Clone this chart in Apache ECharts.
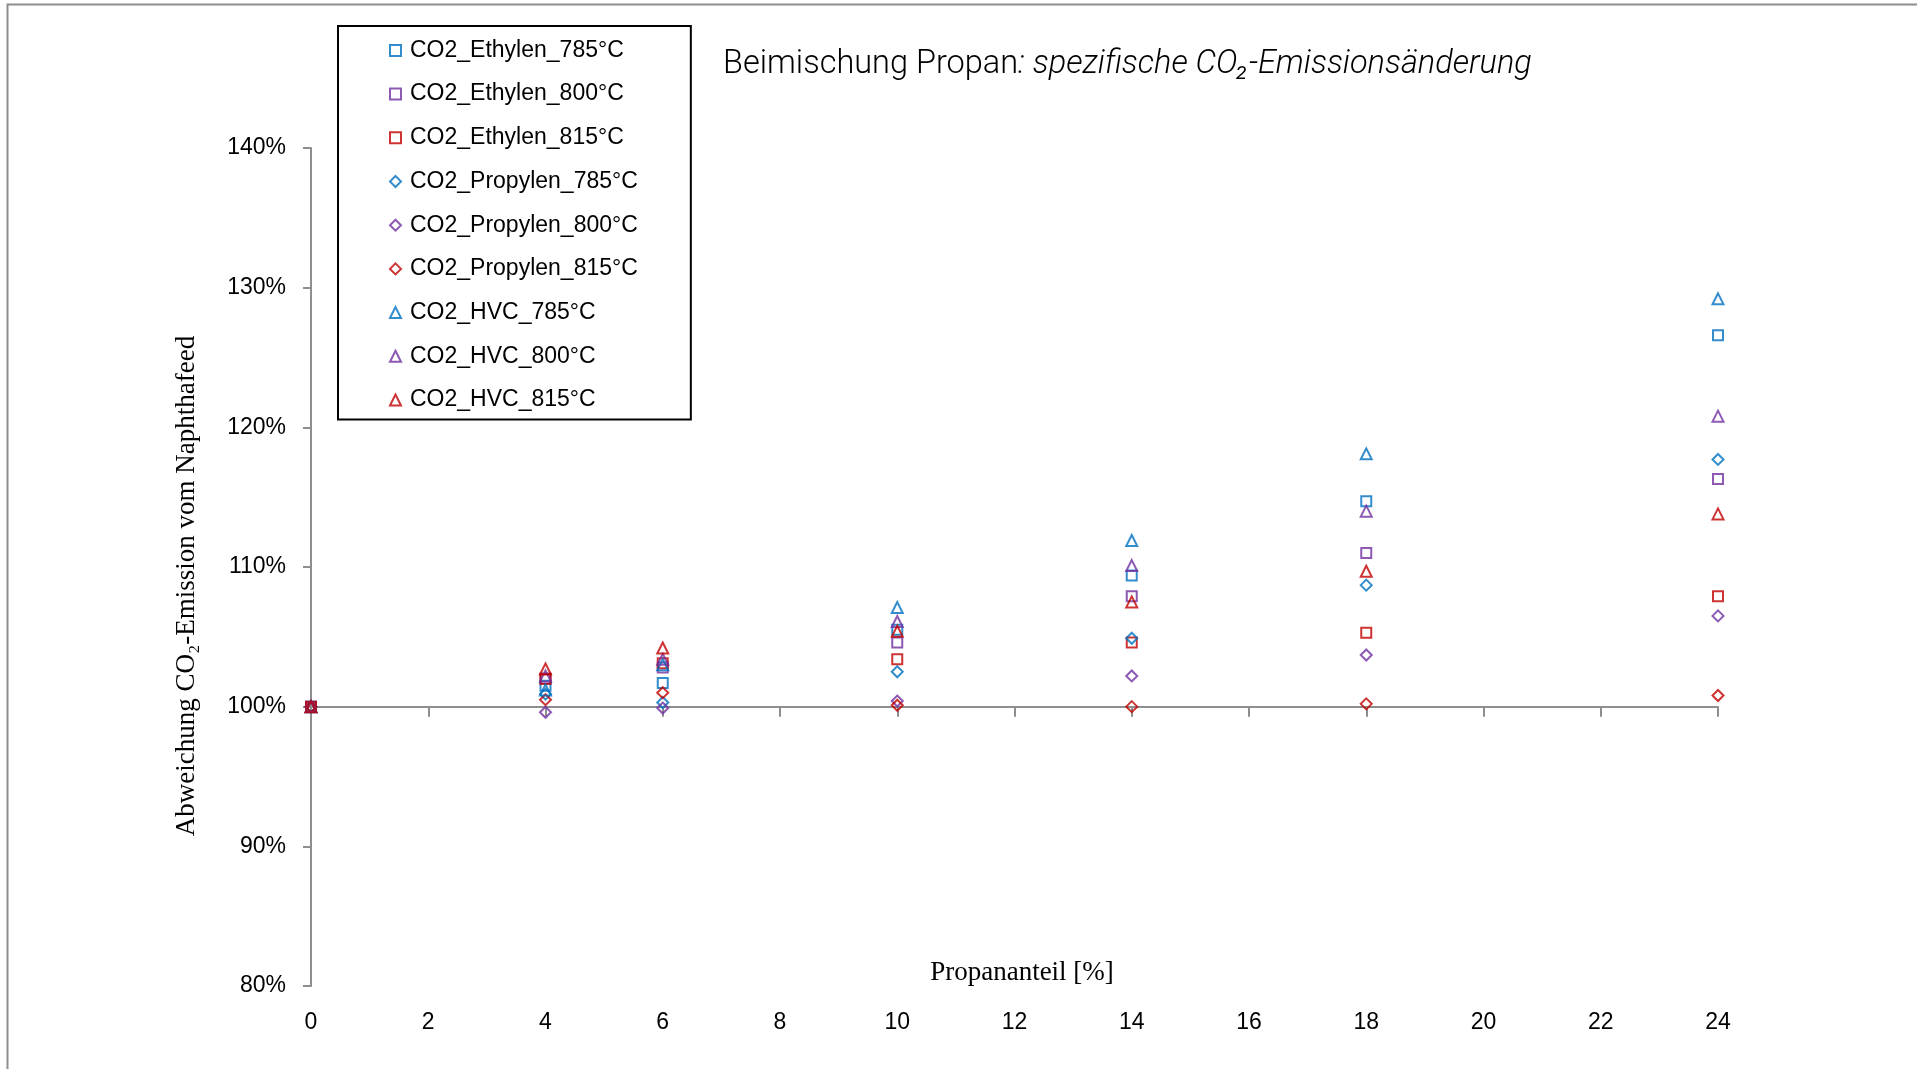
<!DOCTYPE html>
<html>
<head>
<meta charset="utf-8">
<title>Beimischung Propan</title>
<script src="https://cdn.jsdelivr.net/npm/echarts@6/dist/echarts.min.js"></script>
<style>
  html, body { margin: 0; padding: 0; background: #fff; }
  #chart { width: 1917px; height: 1069px; }
</style>
</head>
<body>
<div id="chart"></div>
<script>
// Propane share in the feed [%]
const propanAnteil = [0, 4, 6, 10, 14, 18, 24];

// Specific CO2 emission relative to pure naphtha feed [%]
const co2Ethylen785  = [100, 101.5, 101.7, 105.5, 109.4, 114.7, 126.6];
const co2Ethylen800  = [100, 102.0, 102.8, 104.6, 107.9, 111.0, 116.3];
const co2Ethylen815  = [100, 102.0, 103.1, 103.4, 104.6, 105.3, 107.9];
const co2Propylen785 = [100, 100.9, 100.3, 102.5, 104.9, 108.7, 117.7];
const co2Propylen800 = [100,  99.6,  99.9, 100.4, 102.2, 103.7, 106.5];
const co2Propylen815 = [100, 100.5, 101.0, 100.1, 100.0, 100.2, 100.8];
const co2Hvc785      = [100, 101.2, 103.0, 107.1, 111.9, 118.1, 129.2];
const co2Hvc800      = [100, 102.2, 103.4, 106.1, 110.1, 114.0, 120.8];
const co2Hvc815      = [100, 102.7, 104.2, 105.4, 107.5, 109.7, 113.8];

const seriesNames = [
  'CO2_Ethylen_785°C', 'CO2_Ethylen_800°C', 'CO2_Ethylen_815°C',
  'CO2_Propylen_785°C', 'CO2_Propylen_800°C', 'CO2_Propylen_815°C',
  'CO2_HVC_785°C', 'CO2_HVC_800°C', 'CO2_HVC_815°C'
];
const seriesValues = [
  co2Ethylen785, co2Ethylen800, co2Ethylen815,
  co2Propylen785, co2Propylen800, co2Propylen815,
  co2Hvc785, co2Hvc800, co2Hvc815
];

// Axis ranges
const xMin = 0, xMax = 24, xStep = 2;
const yMin = 80, yMax = 140, yStep = 10;
const yBaseline = 100;

// Styling
const BLUE = '#0070C0', PURPLE = '#7030A0', RED = '#C00000';
const seriesColors = [BLUE, PURPLE, RED, BLUE, PURPLE, RED, BLUE, PURPLE, RED];
const seriesSymbols = ['rect', 'rect', 'rect', 'diamond', 'diamond', 'diamond', 'triangle', 'triangle', 'triangle'];
const symbolSizes = { rect: 10, diamond: 11, triangle: 11 };
const AXIS_GREY = '#8e8e8e';
const SANS = "'Liberation Sans', Arial, sans-serif";
const SERIF = "'Liberation Serif', 'Times New Roman', serif";
const TITLE_FONT = "Roboto, 'Liberation Sans', sans-serif";

const grid = { left: 311, top: 148, right: 199, bottom: 83 };
const gridHeight = 1069 - grid.top - grid.bottom;
// the horizontal axis line sits at the 100 % level
const baselineOffset = -gridHeight * (yBaseline - yMin) / (yMax - yMin);

const chart = echarts.init(document.getElementById('chart'), null, { renderer: 'canvas' });

const series = seriesNames.map((name, i) => ({
  name: name,
  type: 'scatter',
  xAxisIndex: 0,
  yAxisIndex: 0,
  symbol: seriesSymbols[i],
  symbolSize: symbolSizes[seriesSymbols[i]],
  itemStyle: { color: 'rgba(255,255,255,0)', borderColor: seriesColors[i], borderWidth: 2 },
  emphasis: { disabled: true },
  data: propanAnteil.map((x, j) => [x, seriesValues[i][j]])
}));

chart.setOption({
  animation: false,
  backgroundColor: '#ffffff',
  title: {
    left: 718,
    top: 41,
    text: '{n|Beimischung Propan}{i|: spezifische CO₂-Emissionsänderung}',
    textStyle: {
      rich: {
        n: { fontFamily: TITLE_FONT, fontWeight: 300, fontSize: 32.5, color: '#000', lineHeight: 38 },
        i: { fontFamily: TITLE_FONT, fontWeight: 300, fontStyle: 'italic', fontSize: 32.5, color: '#000', lineHeight: 38 }
      }
    }
  },
  legend: {
    orient: 'vertical',
    left: 338,
    top: 26,
    padding: [12.4, 53, 7.6, 51],
    borderColor: '#000',
    borderWidth: 2,
    itemWidth: 11,
    itemHeight: 11,
    itemGap: 19.7,
    selectedMode: false,
    textStyle: { fontFamily: SANS, fontSize: 23, color: '#000', lineHeight: 24, padding: [0, 0, 0, 4] },
    data: seriesNames.map((name, i) => ({
      name: name,
      icon: seriesSymbols[i],
      itemStyle: { color: 'rgba(255,255,255,0)', borderColor: seriesColors[i], borderWidth: 2 }
    }))
  },
  grid: grid,
  xAxis: [
    {
      // tick labels along the bottom edge
      type: 'value',
      min: xMin, max: xMax, interval: xStep,
      position: 'bottom',
      axisLine: { show: false, onZero: false },
      axisTick: { show: false },
      splitLine: { show: false },
      axisLabel: { margin: 25, fontFamily: SANS, fontSize: 23, color: '#000' }
    },
    {
      // axis line with ticks crossing at 100 %
      type: 'value',
      min: xMin, max: xMax, interval: xStep,
      position: 'bottom',
      offset: baselineOffset,
      axisLine: { show: true, onZero: false, lineStyle: { color: AXIS_GREY, width: 2 } },
      axisTick: { show: true, inside: false, length: 10, lineStyle: { color: AXIS_GREY, width: 2 } },
      axisLabel: { show: false },
      splitLine: { show: false }
    }
  ],
  yAxis: {
    type: 'value',
    min: yMin, max: yMax, interval: yStep,
    axisLine: { show: true, onZero: false, lineStyle: { color: AXIS_GREY, width: 2 } },
    axisTick: { show: true, inside: false, length: 8, lineStyle: { color: AXIS_GREY, width: 2 } },
    splitLine: { show: false },
    axisLabel: { formatter: '{value}%', margin: 25, fontFamily: SANS, fontSize: 23, color: '#000' }
  },
  graphic: [
    {
      type: 'rect',
      silent: true,
      z: -10,
      shape: { x: 7.5, y: 4.5, width: 4000, height: 4000 },
      style: { fill: 'none', stroke: AXIS_GREY, lineWidth: 2 }
    },
    {
      type: 'text',
      silent: true,
      x: 187,
      y: 586,
      rotation: Math.PI / 2,
      style: {
        text: 'Abweichung CO₂-Emission vom Naphthafeed',
        fontFamily: SERIF, fontSize: 27, fill: '#000',
        align: 'center', verticalAlign: 'middle'
      }
    },
    {
      type: 'text',
      silent: true,
      x: 1022,
      y: 973,
      style: {
        text: 'Propananteil [%]',
        fontFamily: SERIF, fontSize: 27, fill: '#000',
        align: 'center', verticalAlign: 'middle'
      }
    }
  ],
  series: series
});
</script>
</body>
</html>
